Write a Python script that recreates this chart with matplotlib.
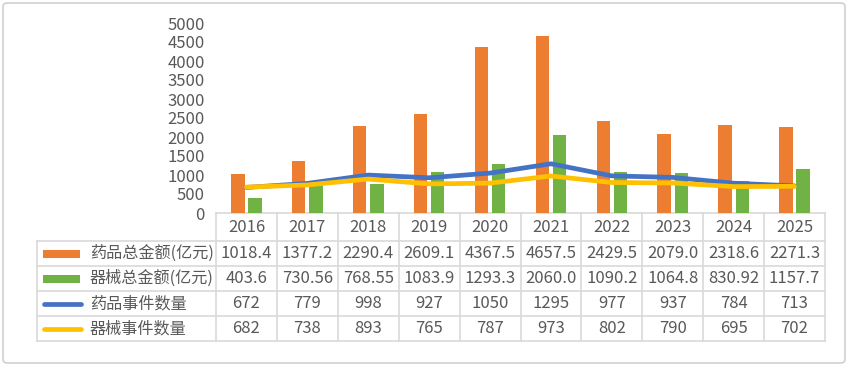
import matplotlib
matplotlib.use("Agg")
import matplotlib.pyplot as plt
from matplotlib.patches import Rectangle, FancyBboxPatch
import numpy as np

plt.rcParams['font.family'] = ['Noto Sans CJK SC', 'DejaVu Sans']

years = ["2016", "2017", "2018", "2019", "2020", "2021", "2022", "2023", "2024", "2025"]
drug_amount = [1018.4, 1377.2, 2290.4, 2609.1, 4367.5, 4657.5, 2429.5, 2079.0, 2318.6, 2271.3]
device_amount = [403.6, 730.56, 768.55, 1083.9, 1293.3, 2060.0, 1090.2, 1064.8, 830.92, 1157.7]
drug_events = [672, 779, 998, 927, 1050, 1295, 977, 937, 784, 713]
device_events = [682, 738, 893, 765, 787, 973, 802, 790, 695, 702]

drug_amount_txt = ["1018.4", "1377.2", "2290.4", "2609.1", "4367.5", "4657.5", "2429.5", "2079.0", "2318.6", "2271.3"]
device_amount_txt = ["403.6", "730.56", "768.55", "1083.9", "1293.3", "2060.0", "1090.2", "1064.8", "830.92", "1157.7"]

series_names = ["药品总金额(亿元)", "器械总金额(亿元)", "药品事件数量", "器械事件数量"]
yticks = [0, 500, 1000, 1500, 2000, 2500, 3000, 3500, 4000, 4500, 5000]

c_orange = "#ED7D31"
c_green = "#70B244"
c_blue = "#4472C4"
c_yellow = "#FFC000"
c_text = "#595959"
c_grid = "#D9D9D9"

W, H = 848, 368
fig = plt.figure(figsize=(W / 100, H / 100), dpi=100)

# plot area in pixel coordinates
x0, x1 = 216, 825
ytop, ybot = 23, 213
ax = fig.add_axes([x0 / W, (H - ybot) / H, (x1 - x0) / W, (ybot - ytop) / H])
x = np.arange(len(years))
bw = 0.22
off = 0.142
ax.bar(x - off, drug_amount, width=bw, color=c_orange, zorder=2)
ax.bar(x + off, device_amount, width=bw, color=c_green, zorder=2)
ax.plot(x, drug_events, color=c_blue, lw=3.4, solid_capstyle='round', solid_joinstyle='round', zorder=3)
ax.plot(x, device_events, color=c_yellow, lw=3.4, solid_capstyle='round', solid_joinstyle='round', zorder=4)
ax.set_xlim(-0.5, len(years) - 0.5)
ax.set_ylim(0, 5000)
ax.set_yticks(yticks)
ax.set_yticklabels([str(v) for v in yticks])
ax.tick_params(axis='y', length=0, pad=8, labelsize=12, labelcolor=c_text)
ax.set_xticks([])
for s in ax.spines.values():
    s.set_visible(False)
ax.patch.set_alpha(0)

# overlay for table and frame, pixel coordinates
ov = fig.add_axes([0, 0, 1, 1], zorder=-1)
ov.set_xlim(0, W)
ov.set_ylim(H, 0)
ov.axis('off')

ov.add_patch(FancyBboxPatch((3, 3), W - 6, H - 8, boxstyle="round,pad=0,rounding_size=4",
                            fill=False, edgecolor="#D0D0D0", lw=1.2))

ncol = len(years)
colw = (x1 - x0) / ncol
tleft = 37
rows = [213, 241, 266, 291, 316, 341]

# horizontal lines
ov.plot([x0, x1], [rows[0], rows[0]], color=c_grid, lw=1.2)
for yy in rows[1:]:
    ov.plot([tleft, x1], [yy, yy], color=c_grid, lw=1.2)
# vertical lines
ov.plot([tleft, tleft], [rows[1], rows[-1]], color=c_grid, lw=1.2)
for i in range(ncol + 1):
    xx = x0 + i * colw
    ov.plot([xx, xx], [rows[0], rows[-1]], color=c_grid, lw=1.2)

# header years
for i, yr in enumerate(years):
    ov.text(x0 + (i + 0.5) * colw, (rows[0] + rows[1]) / 2, yr, ha='center', va='center',
            fontsize=12, color=c_text)

row_vals = [drug_amount_txt, device_amount_txt,
            [str(v) for v in drug_events], [str(v) for v in device_events]]
colors = [c_orange, c_green, c_blue, c_yellow]
for r in range(4):
    yc = (rows[r + 1] + rows[r + 2]) / 2
    if r < 2:
        ov.add_patch(Rectangle((43, yc - 4), 37, 8, color=colors[r], lw=0))
    else:
        ov.plot([44, 81], [yc, yc], color=colors[r], lw=3.4, solid_capstyle='round')
    ov.text(90, yc, series_names[r], ha='left', va='center', fontsize=11.6, color=c_text)
    for i, v in enumerate(row_vals[r]):
        ov.text(x0 + (i + 0.5) * colw, yc, v, ha='center', va='center', fontsize=12, color=c_text)

fig.savefig("out.png", dpi=100, facecolor="white")
